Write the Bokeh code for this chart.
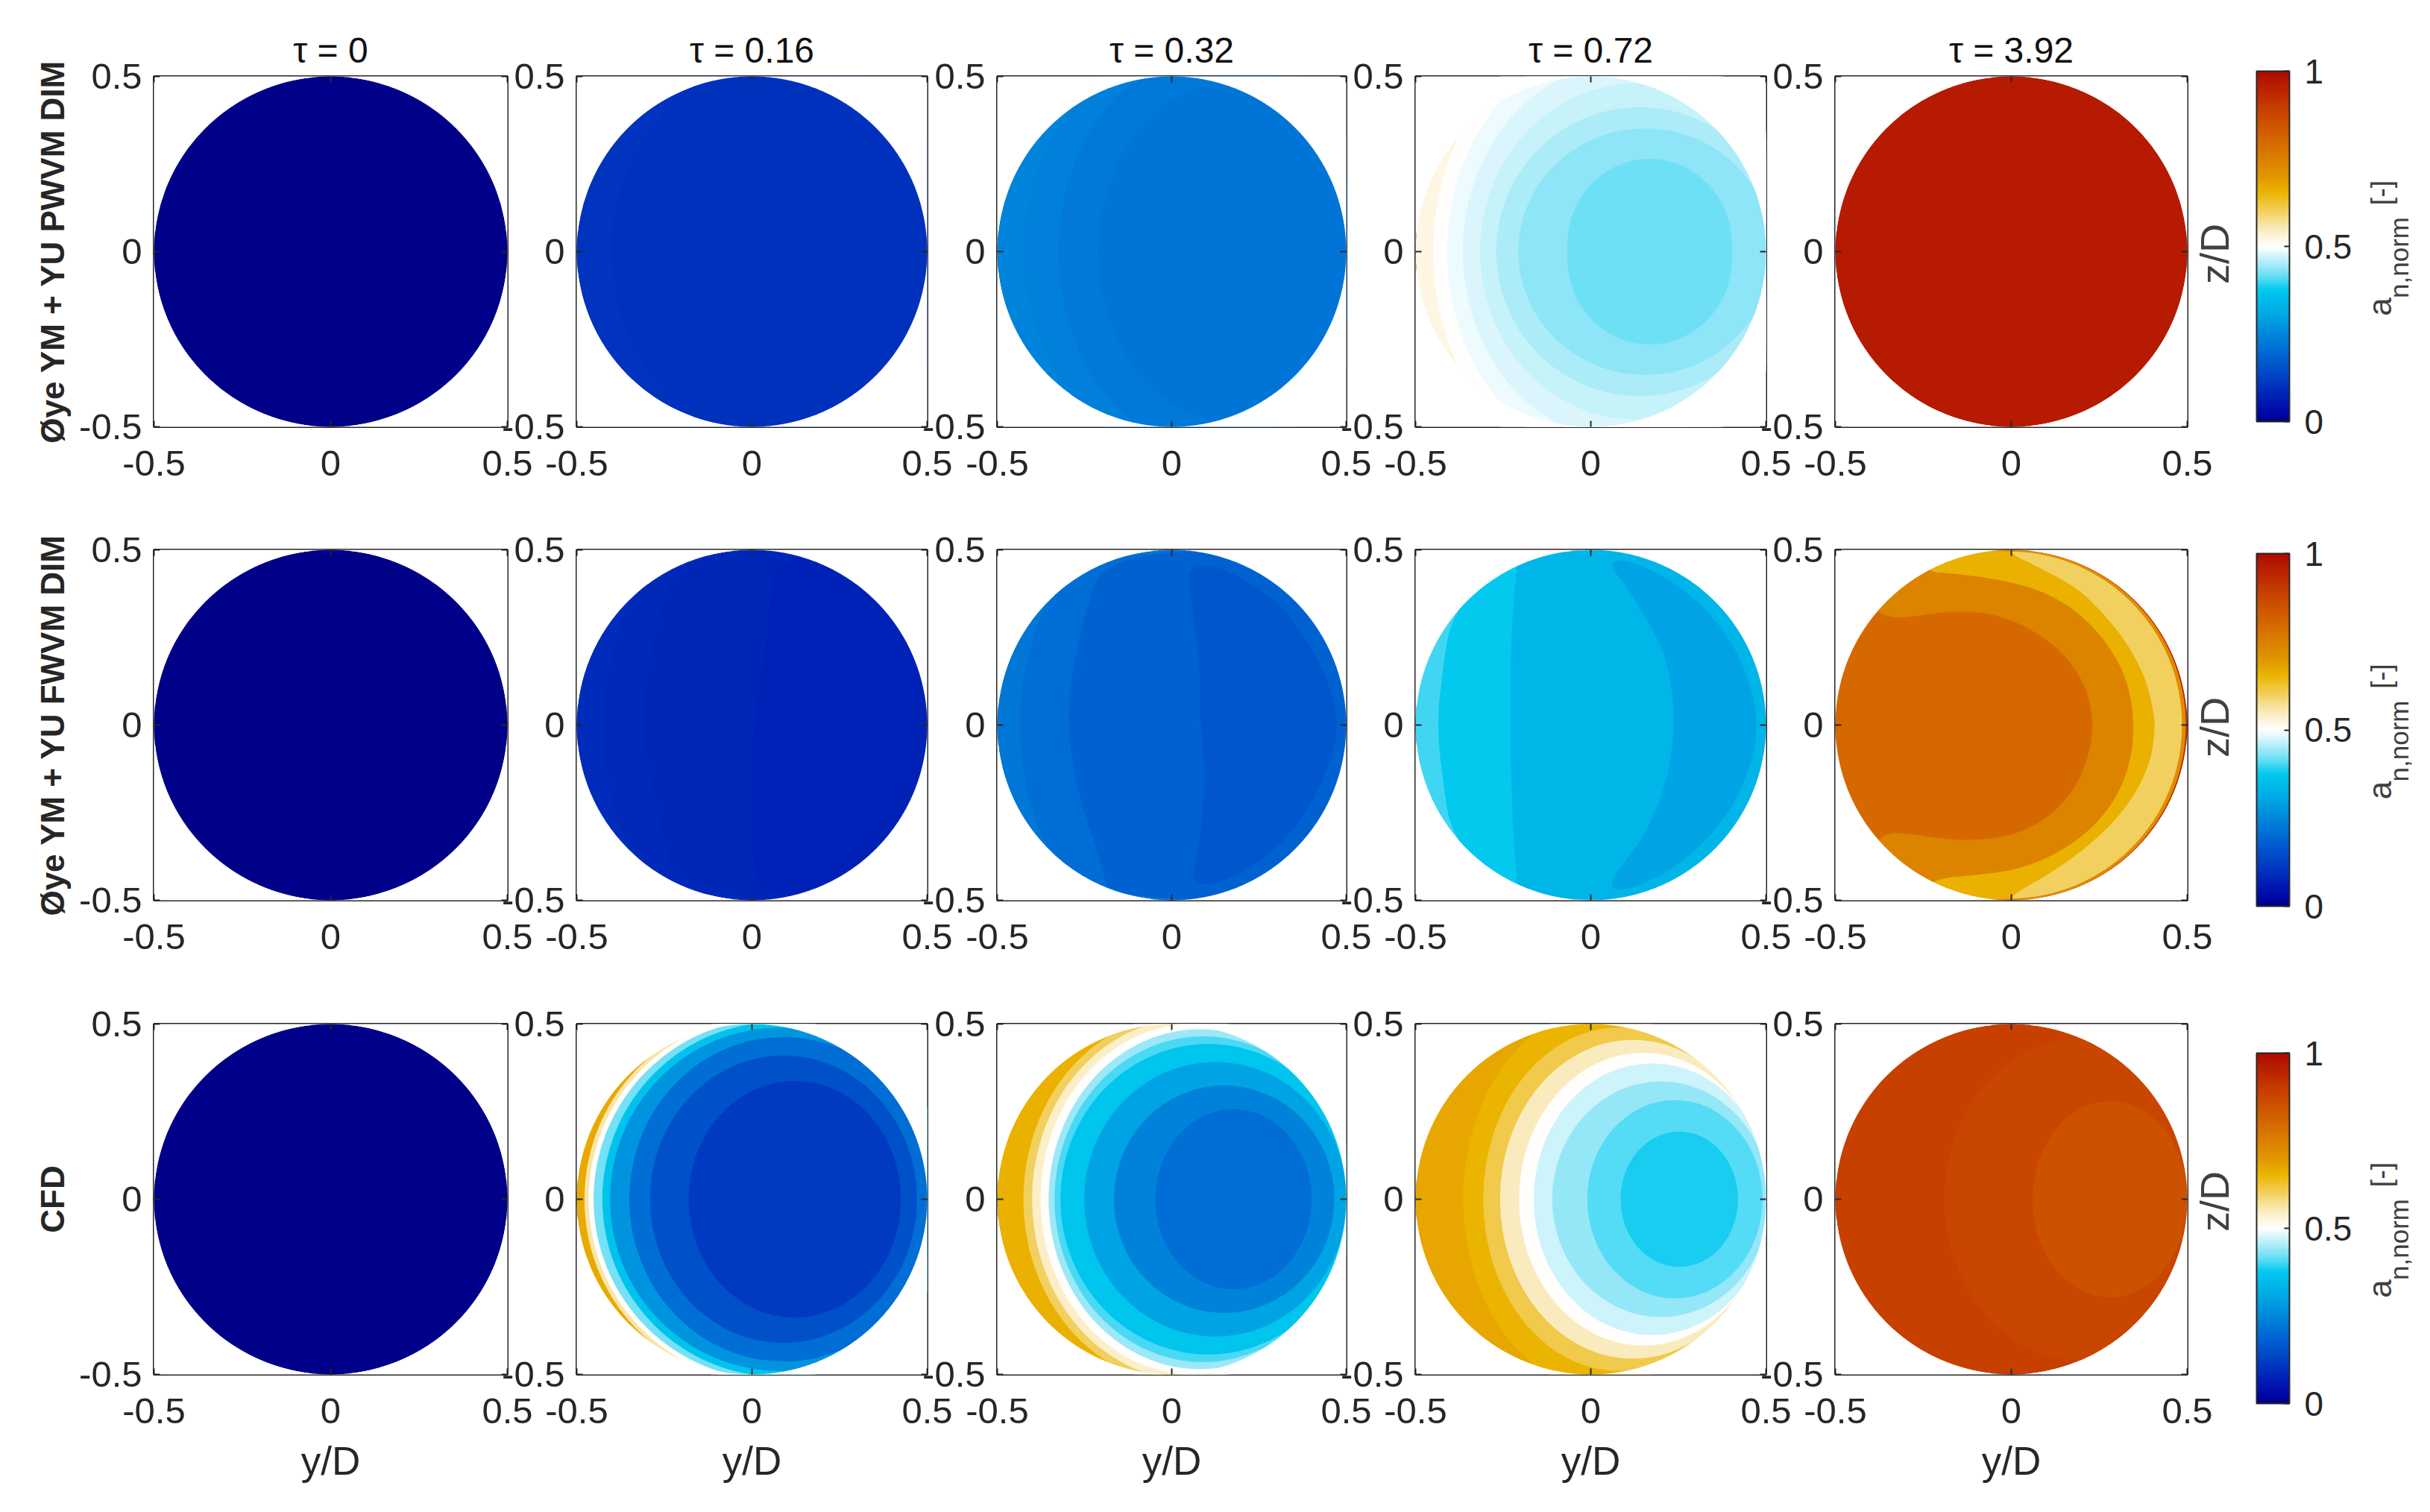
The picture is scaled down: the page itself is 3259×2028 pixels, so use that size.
import math
import numpy as np
from bokeh.embed import file_html
from bokeh.layouts import column, row
from bokeh.models import (ColorBar, ColumnDataSource, FixedTicker, Label, LinearAxis,
                          LinearColorMapper, Range1d, Title)
from bokeh.plotting import figure
from bokeh.resources import INLINE
from bokeh.transform import transform

# ---------- labels ----------
TAUS = ["\u03c4 = 0", "\u03c4 = 0.16", "\u03c4 = 0.32", "\u03c4 = 0.72", "\u03c4 = 3.92"]
MODELS = ["\u00d8ye YM + YU PWVM DIM", "\u00d8ye YM + YU FWVM DIM", "CFD"]
TICK_VALUES = [-0.5, 0, 0.5]
TICK_LABELS = ["-0.5", "0", "0.5"]
CBAR_TICKS = [0, 0.5, 1]
CBAR_LABELS = ["0", "0.5", "1"]

# ---------- colour scale: value -> RGB ----------
CMAP_VALUES = [0, 0.03, 0.1, 0.187, 0.3, 0.375, 0.41, 0.45, 0.5, 0.55, 0.6, 0.655, 0.7, 0.8, 0.9, 1.0]
CMAP_R = [0, 0, 0, 0, 0, 0, 90, 170, 255, 250, 242, 235, 225, 213, 197, 175]
CMAP_G = [0, 10, 50, 100, 165, 200, 220, 235, 255, 235, 208, 180, 150, 105, 60, 10]
CMAP_B = [136, 172, 190, 210, 228, 238, 245, 248, 255, 190, 95, 0, 0, 0, 0, 0]

# ---------- contour bands ----------
# each row: level, centre y/D, centre z/D, half width, half height  (outermost first)
DISK_ZERO = [(0.0, 0, 0, 0.5, 0.5)]

PW_016 = [(0.105, 0, 0, 0.5, 0.5), (0.10, 0.10, 0, 0.50, 0.56)]
PW_032 = [(0.245, 0, 0, 0.5, 0.5), (0.235, 0.08, 0, 0.505, 0.60),
          (0.225, 0.10, 0, 0.424, 0.56), (0.215, 0.16, 0, 0.37, 0.48)]
PW_072 = [(0.52, 0, 0, 0.5, 0.5), (0.50, 0.06, 0, 0.51, 0.64), (0.492, 0.09, 0, 0.50, 0.60),
          (0.48, 0.10, 0, 0.465, 0.54), (0.465, 0.13, 0, 0.446, 0.48), (0.452, 0.14, 0, 0.41, 0.412),
          (0.437, 0.155, 0, 0.362, 0.352), (0.42, 0.168, 0.02, 0.235, 0.245),
          (0.42, 0.168, -0.02, 0.235, 0.245)]
PW_392 = [(0.965, 0, 0, 0.5, 0.5)]

FW_BASE_016 = [(0.09, 0, 0, 0.5, 0.5)]
FW_BASE_032 = [(0.22, 0, 0, 0.5, 0.5)]
FW_BASE_072 = [(0.40, 0, 0, 0.5, 0.5)]
FW_BASE_392 = [(0.95, 0, 0, 0.5, 0.5), (0.72, -0.001, 0, 0.497, 0.5), (0.60, -0.005, 0, 0.49, 0.495)]

CFD_016 = [(0.67, 0, 0, 0.5, 0.5), (0.56, 0.02, 0, 0.498, 0.52), (0.50, 0.04, 0, 0.506, 0.52),
           (0.425, 0.06, 0, 0.512, 0.515), (0.365, 0.07, 0, 0.497, 0.505), (0.27, 0.08, 0, 0.485, 0.49),
           (0.205, 0.09, 0, 0.44, 0.463), (0.155, 0.09, 0, 0.381, 0.41), (0.115, 0.122, 0, 0.303, 0.338)]
CFD_032 = [(0.66, 0, 0, 0.5, 0.5), (0.60, 0.03, 0, 0.455, 0.525), (0.54, 0.05, 0, 0.45, 0.515),
           (0.50, 0.06, 0, 0.436, 0.50), (0.445, 0.08, 0, 0.433, 0.485), (0.405, 0.09, 0, 0.426, 0.465),
           (0.37, 0.105, 0, 0.424, 0.443), (0.30, 0.125, 0, 0.376, 0.392), (0.24, 0.15, 0, 0.316, 0.325),
           (0.205, 0.177, 0, 0.224, 0.257)]
CFD_072 = [(0.675, 0, 0, 0.5, 0.5), (0.655, 0.03, 0, 0.394, 0.54), (0.61, 0.08, 0, 0.387, 0.49),
           (0.55, 0.12, 0, 0.379, 0.455), (0.50, 0.15, 0, 0.355, 0.418), (0.47, 0.175, 0, 0.338, 0.388),
           (0.44, 0.20, 0, 0.31, 0.336), (0.41, 0.24, 0, 0.25, 0.283), (0.385, 0.2525, 0, 0.1675, 0.193)]
CFD_392 = [(0.89, 0, 0, 0.5, 0.5), (0.875, 0.20, 0, 0.39, 0.46), (0.85, 0.28, 0, 0.22, 0.28)]

# free-form bands: level, y/D vertices, z/D vertices (outermost first)
FW_016_LEVELS = [0.085, 0.08, 0.072]
FW_016_Y = [[-0.35, -0.41, -0.427, -0.41, -0.35, -0.2, 0.499, 0.499, -0.2],
            [-0.211, -0.27, -0.305, -0.308, -0.27, -0.211, 0.499, 0.499],
            [0.06, 0.048, 0.006, -0.003, 0.0, 0.02, 0.499, 0.499]]
FW_016_Z = [[0.37, 0.18, 0, -0.18, -0.37, -0.499, -0.499, 0.499, 0.499],
            [0.499, 0.3, 0.1, -0.05, -0.25, -0.499, -0.499, 0.499],
            [0.499, 0.274, 0.014, -0.16, -0.35, -0.499, -0.499, 0.499]]

FW_032_LEVELS = [0.205, 0.187, 0.165]
FW_032_Y = [[-0.36, -0.42, -0.44, -0.42, -0.36, -0.2, 0.499, 0.499, -0.2],
            [-0.183, -0.251, -0.294, -0.297, -0.268, -0.2, -0.183, 0.499, 0.499],
            [0.055, 0.047, 0.08, 0.08, 0.098, 0.07, 0.055, 0.15, 0.3, 0.42, 0.49, 0.42, 0.3, 0.15]]
FW_032_Z = [[0.36, 0.18, 0, -0.18, -0.36, -0.499, -0.499, 0.499, 0.499],
            [0.499, 0.318, 0.10, -0.03, -0.203, -0.394, -0.499, -0.499, 0.499],
            [0.457, 0.405, 0.19, 0.014, -0.16, -0.40, -0.457, -0.45, -0.36, -0.2, 0, 0.2, 0.36, 0.45]]

FW_072_LEVELS = [0.375, 0.335, 0.30]
FW_072_Y = [[-0.397, -0.42, -0.44, -0.42, -0.397, -0.25, 0.499, 0.499, -0.25],
            [-0.211, -0.227, -0.23, -0.225, -0.211, -0.211, 0.499, 0.499, -0.211],
            [0.056, 0.095, 0.162, 0.219, 0.242, 0.219, 0.162, 0.095, 0.056, 0.07, 0.15, 0.25, 0.36,
             0.44, 0.483, 0.44, 0.36, 0.25, 0.15, 0.07]]
FW_072_Z = [[0.313, 0.18, 0, -0.18, -0.313, -0.499, -0.499, 0.499, 0.499],
            [0.444, 0.274, 0, -0.246, -0.446, -0.499, -0.499, 0.499, 0.499],
            [0.452, 0.405, 0.30, 0.1875, 0.014, -0.16, -0.30, -0.394, -0.446, -0.475, -0.455, -0.40,
             -0.30, -0.17, 0, 0.17, 0.30, 0.40, 0.455, 0.475]]

FW_392_LEVELS = [0.66, 0.74, 0.80]
FW_392_Y = [[0.004, 0.004, 0.078, 0.184, 0.255, 0.325, 0.382, 0.406, 0.408, 0.397, 0.36, 0.30, 0.21,
             0.11, 0.004, 0.004, -0.499, -0.499],
            [-0.236, -0.169, -0.063, 0.043, 0.114, 0.184, 0.255, 0.311, 0.339, 0.348, 0.343, 0.318,
             0.262, 0.184, 0.099, 0.008, -0.098, -0.218, -0.30, -0.499, -0.499, -0.30],
            [-0.377, -0.359, -0.317, -0.253, -0.183, -0.098, -0.027, 0.043, 0.114, 0.170, 0.212, 0.230,
             0.230, 0.212, 0.170, 0.099, 0.015, -0.063, -0.154, -0.239, -0.317, -0.355, -0.377, -0.42,
             -0.499, -0.499, -0.42]]
FW_392_Z = [[0.499, 0.486, 0.45, 0.394, 0.326, 0.241, 0.135, 0.03, -0.012, -0.098, -0.183, -0.268, -0.353,
             -0.424, -0.484, -0.499, -0.499, 0.499],
            [0.436, 0.433, 0.42, 0.397, 0.369, 0.326, 0.256, 0.171, 0.086, 0.001, -0.077, -0.169,
             -0.261, -0.332, -0.382, -0.414, -0.428, -0.438, -0.499, -0.499, 0.499, 0.499],
            [0.323, 0.312, 0.305, 0.314, 0.323, 0.323, 0.309, 0.28, 0.234, 0.178, 0.107, 0.029,
             -0.035, -0.113, -0.198, -0.268, -0.311, -0.325, -0.329, -0.318, -0.307, -0.311, -0.329, -0.36,
             -0.36, 0.36, 0.36]]

BANDS = [[DISK_ZERO, PW_016, PW_032, PW_072, PW_392],
         [DISK_ZERO, FW_BASE_016, FW_BASE_032, FW_BASE_072, FW_BASE_392],
         [DISK_ZERO, CFD_016, CFD_032, CFD_072, CFD_392]]
SHAPES = [[None] * 5,
          [None, (FW_016_LEVELS, FW_016_Y, FW_016_Z), (FW_032_LEVELS, FW_032_Y, FW_032_Z),
           (FW_072_LEVELS, FW_072_Y, FW_072_Z), (FW_392_LEVELS, FW_392_Y, FW_392_Z)],
          [None] * 5]

# ---------- layout, in page pixels ----------
FRAME_X = [(206, 680), (773, 1243), (1337, 1805), (1898, 2368), (2461, 2933)]
FRAME_Y = [(102, 572), (737, 1207), (1373, 1843)]
CBAR_Y = [(95, 565), (742, 1215), (1412, 1882)]
CBAR_X = (3026, 3070)
ROW_TOP = [102, 60, 61]
ROW_BOTTOM = [105, 105, 170]
LABEL_STRIP = (2880, 3250)
INK = "#262626"
FONT = "Liberation Sans"

palette = []
grid = np.linspace(0, 1, 256)
for r, g, b in zip(np.interp(grid, CMAP_VALUES, CMAP_R), np.interp(grid, CMAP_VALUES, CMAP_G),
                   np.interp(grid, CMAP_VALUES, CMAP_B)):
    palette.append("#%02x%02x%02x" % (int(round(r)), int(round(g)), int(round(b))))
mapper = LinearColorMapper(palette=palette, low=0, high=1)

overrides = dict(zip(TICK_VALUES, TICK_LABELS))
blank = {v: "" for v in TICK_VALUES}
theta = np.linspace(0, 2 * math.pi, 721)


def rounded(pts, passes=3):
    """Corner-cutting so the read contour vertices draw as a smooth curve."""
    pts = list(pts)
    for _ in range(passes):
        out = []
        for a, b in zip(pts, pts[1:] + pts[:1]):
            out += [0.75 * a + 0.25 * b, 0.25 * a + 0.75 * b]
        pts = out
    return pts


def make_panel(r, c):
    left = FRAME_X[0][0] if c == 0 else 130
    right = 315 if c == 4 else 45
    top, bottom = ROW_TOP[r], ROW_BOTTOM[r]
    fw = FRAME_X[c][1] - FRAME_X[c][0]
    fh = FRAME_Y[r][1] - FRAME_Y[r][0]
    p = figure(width=left + fw + right, height=top + fh + bottom,
               x_range=Range1d(-0.5, 0.5), y_range=Range1d(-0.5, 0.5),
               output_backend="svg", toolbar_location=None,
               min_border_left=left, min_border_right=right, min_border_top=top, min_border_bottom=bottom,
               border_fill_color=None, background_fill_color=None,
               outline_line_color=INK, outline_line_width=3)
    p.xgrid.visible = False
    p.ygrid.visible = False
    for ax in (p.xaxis[0], p.yaxis[0]):
        ax.ticker = FixedTicker(ticks=TICK_VALUES)
        ax.major_label_overrides = overrides
        ax.minor_tick_line_color = None
        ax.major_tick_in = 8
        ax.major_tick_out = 0
        ax.major_tick_line_color = INK
        ax.major_tick_line_width = 2
        ax.axis_line_color = None
        ax.major_label_text_font = FONT
        ax.major_label_text_font_size = "49px"
        ax.major_label_text_color = INK
    p.xaxis[0].major_label_standoff = 32
    p.yaxis[0].major_label_standoff = 16

    if r == 2:
        p.xaxis[0].axis_label = "y/D"
        p.xaxis[0].axis_label_standoff = 18
        p.xaxis[0].axis_label_text_font = FONT
        p.xaxis[0].axis_label_text_font_size = "53px"
        p.xaxis[0].axis_label_text_font_style = "normal"
        p.xaxis[0].axis_label_text_color = INK
    if c == 0:
        p.yaxis[0].axis_label = MODELS[r]
        p.yaxis[0].axis_label_standoff = 8
        p.yaxis[0].axis_label_text_font = FONT
        p.yaxis[0].axis_label_text_font_size = "44px"
        p.yaxis[0].axis_label_text_font_style = "bold"
        p.yaxis[0].axis_label_text_color = INK

    for place in ("above", "right"):
        mirror = LinearAxis(ticker=FixedTicker(ticks=TICK_VALUES), major_label_overrides=blank,
                            major_tick_in=8, major_tick_out=0, major_tick_line_color=INK,
                            major_tick_line_width=2, minor_tick_line_color=None, axis_line_color=None,
                            major_label_standoff=0, major_label_text_font_size="1px",
                            major_label_text_color=None)
        p.add_layout(mirror, place)

    rows = BANDS[r][c]
    src = ColumnDataSource(dict(v=[b[0] for b in rows], x=[b[1] for b in rows], z=[b[2] for b in rows],
                                w=[2 * b[3] for b in rows], h=[2 * b[4] for b in rows]))
    p.ellipse("x", "z", width="w", height="h", source=src, fill_color=transform("v", mapper), line_color=None)

    shape = SHAPES[r][c]
    if shape is not None:
        levels, xs, zs = shape
        p.patches("xs", "zs", source=ColumnDataSource(dict(xs=[rounded(x) for x in xs],
                                                           zs=[rounded(z) for z in zs], v=levels)),
                  fill_color=transform("v", mapper), line_color=None)

    # white surround keeps the contour bands inside the rotor disk
    outer_x = [-0.7, 0.7, 0.7, -0.7]
    outer_z = [-0.7, -0.7, 0.7, 0.7]
    p.multi_polygons(xs=[[[outer_x, list(0.5 * np.cos(theta))]]], ys=[[[outer_z, list(0.5 * np.sin(theta))]]],
                     fill_color="white", line_color=None)

    if r == 0:
        p.add_layout(Title(text=TAUS[c], align="center", text_font=FONT, text_font_size="48px",
                           text_font_style="normal", text_color="#111111", standoff=18), "above")

    if c == 4:
        y0, y1 = CBAR_Y[r]
        bar = ColorBar(color_mapper=mapper, ticker=FixedTicker(ticks=CBAR_TICKS),
                       major_label_overrides=dict(zip(CBAR_TICKS, CBAR_LABELS)),
                       location=(CBAR_X[0] - FRAME_X[4][0], FRAME_Y[r][1] - y1),
                       width=CBAR_X[1] - CBAR_X[0], height=y1 - y0, padding=0, margin=0,
                       background_fill_color=None, border_line_color=None,
                       bar_line_color=INK, bar_line_width=2,
                       major_tick_line_color=INK, major_tick_line_width=2, major_tick_in=7, major_tick_out=0,
                       minor_tick_line_color=None, label_standoff=20,
                       major_label_text_font=FONT, major_label_text_font_size="46px",
                       major_label_text_color=INK)
        p.add_layout(bar, "center")
    return p


def make_label_strip(r):
    """Transparent strip over the right margin that carries the rotated side labels."""
    top, bottom = ROW_TOP[r], ROW_BOTTOM[r]
    fh = FRAME_Y[r][1] - FRAME_Y[r][0]
    p = figure(width=LABEL_STRIP[1] - LABEL_STRIP[0], height=top + fh + bottom,
               x_range=Range1d(*LABEL_STRIP), y_range=Range1d(FRAME_Y[r][1], FRAME_Y[r][0]),
               x_axis_type=None, y_axis_type=None, output_backend="svg", toolbar_location=None,
               min_border_left=0, min_border_right=0, min_border_top=top, min_border_bottom=bottom,
               border_fill_color=None, background_fill_color=None, outline_line_color=None)
    p.xgrid.visible = False
    p.ygrid.visible = False
    p.margin = (0, 0, 0, LABEL_STRIP[0] - (FRAME_X[4][1] + 315))
    centre = sum(CBAR_Y[r]) / 2
    txt = dict(angle=math.pi / 2, text_font=FONT, text_baseline="middle", text_align="center",
               text_color="#404040")
    items = [(2969, sum(FRAME_Y[r]) / 2 + 3, "z/D", "54px"),
             (3191, centre + 81, "a", "44px"),
             (3217, centre + 15, "n,norm", "35px"),
             (3193, centre - 72, "[-]", "38px")]
    for px, py, text, size in items:
        p.add_layout(Label(x=px, y=py, text=text, text_font_size=size, **txt))
    return p


rows_out = []
for r in range(3):
    cells = []
    for c in range(5):
        p = make_panel(r, c)
        if c > 0:
            prev_right = FRAME_X[c - 1][1] + 45
            p.margin = (0, 0, 0, (FRAME_X[c][0] - 130) - prev_right)
        cells.append(p)
    cells.append(make_label_strip(r))
    rows_out.append(row(*cells, spacing=0))
page = column(*rows_out, spacing=0)
open("out.html", "w").write(file_html(page, INLINE))
